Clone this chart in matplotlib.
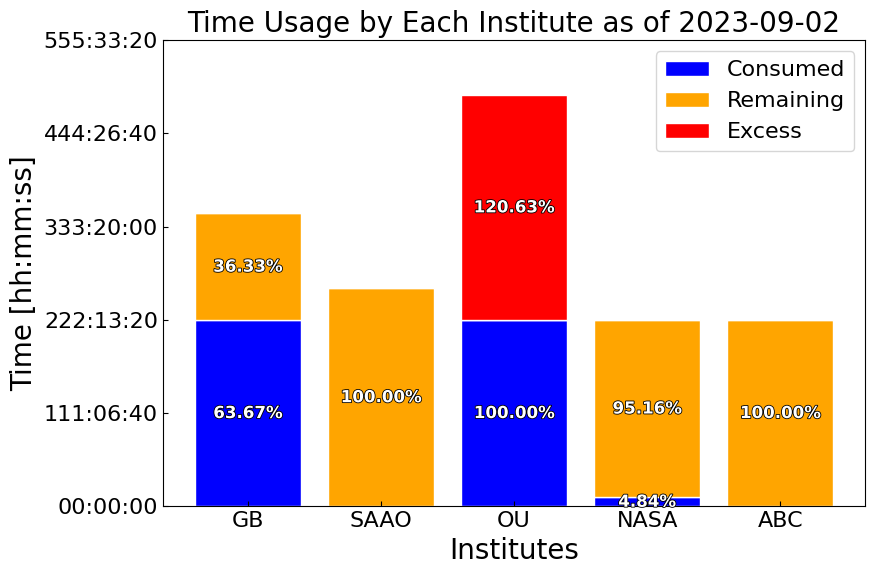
import numpy as np
import matplotlib.pyplot as plt
import matplotlib.patheffects as pe
from matplotlib.ticker import FuncFormatter, MultipleLocator

institutes = ['GB', 'SAAO', 'OU', 'NASA', 'ABC']
# seconds
allocated = np.array([1256500, 936000, 800000, 800000, 800000])
consumed = np.array([800000, 0, 800000, 38720, 0])
excess = np.array([0, 0, 965040, 0, 0])
remaining = np.clip(allocated - consumed, 0, None)


def hms(x, pos):
    x = int(round(x))
    h, r = divmod(x, 3600)
    m, s = divmod(r, 60)
    return f'{h:02d}:{m:02d}:{s:02d}'


fig, ax = plt.subplots(figsize=(8.75, 5.74), dpi=100)
x = np.arange(len(institutes))
ax.bar(x, consumed, color='blue', edgecolor='white', label='Consumed')
ax.bar(x, remaining, bottom=consumed, color='orange', edgecolor='white', label='Remaining')
ax.bar(x, excess, bottom=consumed + remaining, color='red', edgecolor='white', label='Excess')

stroke = [pe.withStroke(linewidth=1.2, foreground='black')]
for i in range(len(institutes)):
    segs = [(consumed[i], 0), (remaining[i], consumed[i]), (excess[i], consumed[i] + remaining[i])]
    for val, base in segs:
        if val > 0:
            pct = val / allocated[i] * 100
            ax.text(x[i], base + val / 2, f'{pct:.2f}%', ha='center', va='center',
                    color='white', fontsize=12, fontweight='bold', path_effects=stroke)

ax.set_xticks(x)
ax.set_xticklabels(institutes)
ax.set_ylim(0, 2000000)
ax.yaxis.set_major_locator(MultipleLocator(400000))
ax.yaxis.set_major_formatter(FuncFormatter(hms))
ax.tick_params(direction='in', labelsize=16)
ax.set_xlabel('Institutes', fontsize=20)
ax.set_ylabel('Time [hh:mm:ss]', fontsize=20)
ax.set_title('Time Usage by Each Institute as of 2023-09-02', fontsize=20)
ax.legend(fontsize=16, loc='upper right')

plt.subplots_adjust(left=0.186, right=0.989, top=0.93, bottom=0.118)
plt.savefig('out.png', dpi=100)
